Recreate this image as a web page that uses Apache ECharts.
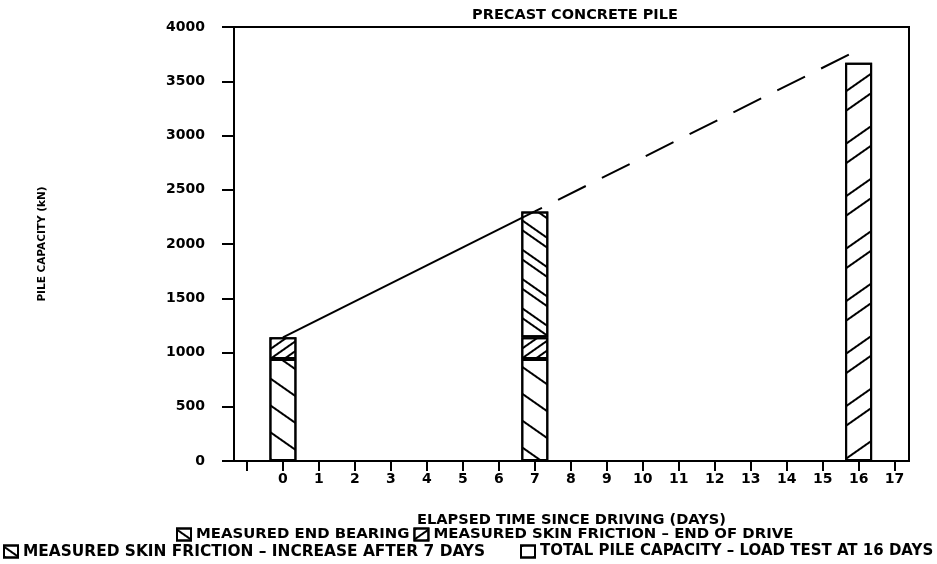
<!DOCTYPE html>
<html>
<head>
<meta charset="utf-8">
<script src="https://cdn.jsdelivr.net/npm/echarts@6/dist/echarts.min.js"></script>
<style>
  html, body { margin: 0; padding: 0; background: #fff; }
  #chart { width: 937px; height: 564px; }
</style>
</head>
<body>
<div id="chart"></div>
<script>
// Elapsed days at which the pile was tested
const barDays = [0, 7, 16];
// Capacity components (kN) for each test day ('-' = not measured that day)
const endBearing = [940, 940, '-'];
const skinEndOfDrive = [200, 200, '-'];
const skinIncrease = ['-', 1160, '-'];
const totalLoadTest = ['-', '-', 3670];

// Trend through the measured totals and its extension to the load test
const trendDays = [0, 7];
const trendValues = [1140, 2300];
const extendDays = [7, 16];
const extendValues = [2300, 3790];

// Axis ticks and labels
const xTickValues = [-1, 0, 1, 2, 3, 4, 5, 6, 7, 8, 9, 10, 11, 12, 13, 14, 15, 16, 17];
const xLabelValues = [0, 1, 2, 3, 4, 5, 6, 7, 8, 9, 10, 11, 12, 13, 14, 15, 16, 17];
const yMin = 0, yMax = 4000, yStep = 500;

const seriesNames = [
  'MEASURED END BEARING',
  'MEASURED SKIN FRICTION \u2013 END OF DRIVE',
  'MEASURED SKIN FRICTION \u2013 INCREASE AFTER 7 DAYS',
  'TOTAL PILE CAPACITY \u2013 LOAD TEST AT 16 DAYS'
];

const FONT = 'DejaVu Sans';
const txt = { fontFamily: FONT, fontWeight: 'bold', fontSize: 14, color: '#000' };
const sized = (s) => Object.assign({}, txt, { fontSize: s });

// Rows are [capacity, day]; the capacity comes first so the stack sums it,
// and every series has one row per test day so the stack lines up by index.
function rows(values) {
  return values.map((v, i) => [v, barDays[i]]);
}

function hatch(angleDeg, dashY) {
  return {
    symbol: 'rect',
    symbolSize: 1,
    color: '#000',
    backgroundColor: null,
    dashArrayX: [1, 0],
    dashArrayY: dashY,
    rotation: angleDeg * Math.PI / 180
  };
}

function barSeries(name, values, decal) {
  return {
    name: name,
    type: 'bar',
    stack: 'pile',
    barWidth: 27,
    z: 2,
    encode: { x: 1, y: 0 },
    data: rows(values),
    itemStyle: { color: '#fff', borderColor: '#000', borderWidth: 2, decal: decal },
    emphasis: { disabled: true }
  };
}

// A legend row placed at a given spot
function legendRow(names, left, top, size, gap) {
  return {
    data: names,
    left: left, top: top, padding: 0,
    itemWidth: 14, itemHeight: 12, itemGap: gap,
    icon: 'rect',
    textStyle: sized(size),
    selectedMode: false
  };
}

const chart = echarts.init(document.getElementById('chart'), null, { renderer: 'canvas' });

chart.setOption({
  animation: false,
  backgroundColor: '#fff',
  title: {
    text: 'PRECAST CONCRETE PILE',
    left: 570,
    top: 3,
    textAlign: 'center',
    textStyle: sized(14.5)
  },
  grid: {
    left: 234, right: 28, top: 27, bottom: 103,
    show: true, borderColor: '#000', borderWidth: 2, backgroundColor: 'transparent'
  },
  legend: [
    legendRow([seriesNames[0], seriesNames[1]], 176, 527, 14.9, 4),
    legendRow([seriesNames[2]], 3, 544, 15.4, 0),
    legendRow([seriesNames[3]], 520, 544, 15, 0)
  ],
  xAxis: {
    type: 'value',
    min: -1.36,
    max: 17.4,
    name: 'ELAPSED TIME SINCE DRIVING (DAYS)',
    nameLocation: 'middle',
    nameGap: 52,
    nameTextStyle: sized(14.6),
    splitLine: { show: false },
    axisLine: { onZero: false, lineStyle: { color: '#000', width: 2 } },
    axisTick: { show: true, length: 10, lineStyle: { color: '#000', width: 2 }, customValues: xTickValues },
    axisLabel: Object.assign({}, txt, { margin: 11, customValues: xLabelValues })
  },
  yAxis: {
    type: 'value',
    min: yMin,
    max: yMax,
    interval: yStep,
    name: 'PILE CAPACITY (kN)',
    nameLocation: 'middle',
    nameGap: 186,
    nameRotate: 90,
    nameTextStyle: sized(10.5),
    splitLine: { show: false },
    axisLine: { show: true, onZero: false, lineStyle: { color: '#000', width: 2 } },
    axisTick: { show: true, length: 12, lineStyle: { color: '#000', width: 2 } },
    axisLabel: Object.assign({}, txt, { margin: 29, formatter: (v) => String(v) })
  },
  series: [
    barSeries(seriesNames[0], endBearing, hatch(35, [2, 20])),
    barSeries(seriesNames[1], skinEndOfDrive, hatch(-35, [2, 6])),
    barSeries(seriesNames[2], skinIncrease, hatch(35, [2, 6, 2, 14])),
    barSeries(seriesNames[3], totalLoadTest, hatch(-35, [2, 14, 2, 25])),
    {
      type: 'line',
      z: 5,
      data: trendDays.map((d, i) => [d, trendValues[i]]),
      symbol: 'none',
      lineStyle: { color: '#000', width: 2 },
      silent: true
    },
    {
      type: 'line',
      z: 5,
      data: extendDays.map((d, i) => [d, extendValues[i]]),
      symbol: 'none',
      lineStyle: { color: '#000', width: 2, type: [31, 18], dashOffset: 23 },
      silent: true
    }
  ]
});
</script>
</body>
</html>
